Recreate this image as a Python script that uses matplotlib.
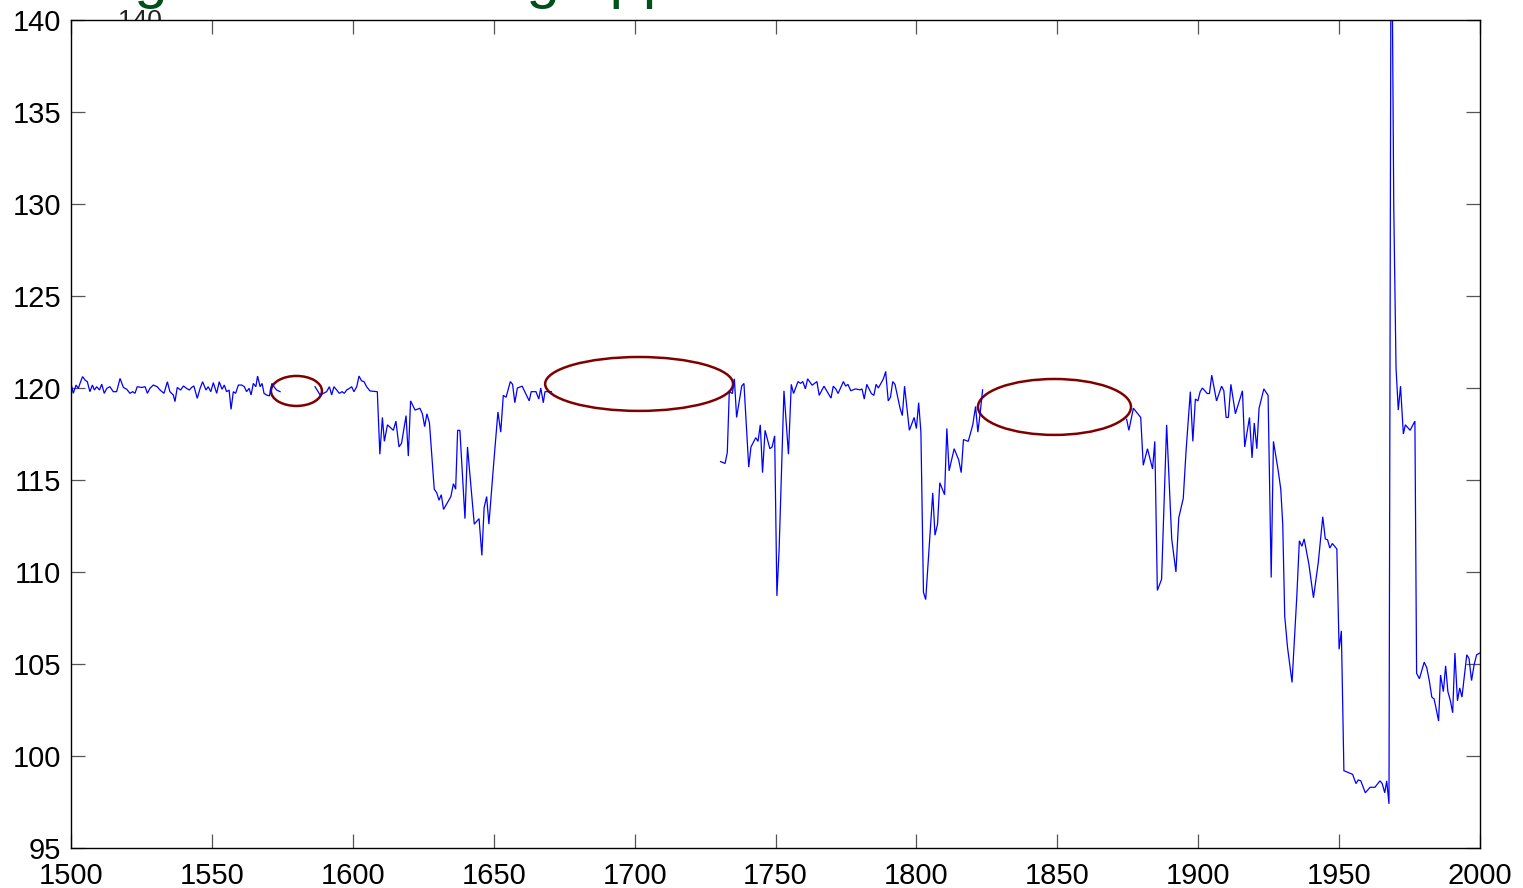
import matplotlib
matplotlib.use('Agg')
import matplotlib.pyplot as plt
from matplotlib.patches import Ellipse

plt.rcParams['font.family'] = ['Liberation Sans', 'DejaVu Sans']

# ---------------- data ----------------
x_ticks = [1500, 1550, 1600, 1650, 1700, 1750, 1800, 1850, 1900, 1950, 2000]
y_ticks = [95, 100, 105, 110, 115, 120, 125, 130, 135, 140]

seg1_years = [1500.0, 1500.8, 1501.8, 1502.6, 1503.2, 1504.1, 1505.0, 1505.8, 1506.7, 1507.6,
              1508.3, 1509.1, 1510.1, 1510.9, 1511.8, 1512.7, 1513.8, 1515.0, 1516.2, 1517.4,
              1518.6, 1519.8, 1520.9, 1521.9, 1522.7, 1523.5, 1525.1, 1526.3, 1527.1, 1528.0,
              1529.2, 1530.6, 1531.6, 1533.0, 1534.2, 1535.1, 1536.3, 1536.9, 1537.7, 1538.9,
              1539.9, 1541.0, 1542.0, 1542.8, 1543.6, 1544.8, 1545.8, 1546.7, 1547.9, 1548.7,
              1549.6, 1550.5, 1551.7, 1552.6, 1553.6, 1554.4, 1555.2, 1556.1, 1556.8, 1557.6,
              1558.4, 1559.4, 1560.6, 1561.5, 1562.3, 1563.2, 1563.9, 1564.7, 1565.6, 1566.2,
              1567.1, 1567.8, 1568.5, 1569.4, 1570.4, 1571.3, 1572.2, 1573.0, 1574.2]
seg1_values = [120.25, 119.71, 120.16, 119.98, 120.25, 120.62, 120.43, 120.34, 119.80, 120.16,
               119.89, 120.07, 119.89, 120.21, 119.71, 119.98, 120.07, 119.80, 119.80, 120.52,
               120.03, 119.93, 119.71, 119.80, 119.71, 120.07, 120.03, 120.07, 119.71, 119.98,
               120.16, 120.07, 119.89, 119.71, 120.34, 119.80, 119.62, 119.26, 120.03, 119.89,
               120.11, 119.98, 119.89, 120.03, 120.11, 119.44, 119.98, 120.34, 119.89, 120.07,
               119.80, 120.29, 119.71, 120.34, 119.93, 120.16, 119.80, 119.89, 118.84, 119.80,
               119.71, 120.16, 120.16, 120.07, 119.80, 119.98, 119.62, 120.25, 120.07, 120.65,
               120.07, 120.25, 119.71, 119.62, 119.57, 120.25, 120.03, 119.89, 119.80]

seg2_years = [1586.6, 1588.4, 1589.6, 1590.7, 1591.7, 1592.5, 1593.3, 1594.3, 1595.2, 1596.2,
              1597.0, 1597.8, 1598.8, 1599.6, 1600.4, 1601.4, 1602.2, 1603.1, 1604.0, 1604.9,
              1606.1, 1608.7, 1609.6, 1610.5, 1611.2, 1612.3, 1614.4, 1615.3, 1616.4, 1617.3,
              1618.9, 1619.7, 1620.5, 1622.1, 1623.8, 1624.7, 1625.5, 1626.3, 1627.2, 1628.9,
              1629.8, 1630.6, 1631.4, 1632.2, 1634.8, 1635.7, 1636.5, 1637.2, 1638.0, 1639.8,
              1640.7, 1643.1, 1644.8, 1645.8, 1646.6, 1647.5, 1648.3, 1650.1, 1651.5, 1652.5,
              1653.4, 1654.4, 1655.9, 1656.7, 1657.5, 1658.4, 1660.1, 1662.6, 1663.3, 1665.0,
              1666.0, 1666.7, 1667.6, 1668.2, 1670.5]
seg2_values = [120.07, 119.62, 119.71, 119.80, 120.07, 119.62, 120.07, 119.89, 119.71, 119.80,
               119.71, 119.89, 119.98, 120.07, 119.80, 120.07, 120.65, 120.39, 120.34, 120.07,
               119.84, 119.80, 116.40, 118.40, 117.10, 118.00, 117.70, 118.20, 116.80, 117.00,
               118.50, 116.30, 119.30, 118.80, 118.90, 118.60, 117.90, 118.60, 118.10, 114.50,
               114.30, 113.90, 114.20, 113.40, 114.10, 114.80, 114.50, 117.70, 117.70, 112.90,
               116.80, 112.60, 112.90, 110.90, 113.50, 114.10, 112.60, 116.10, 118.70, 117.60,
               119.60, 119.50, 120.35, 120.20, 119.20, 120.00, 120.10, 119.30, 119.80, 119.80,
               119.40, 120.00, 119.20, 119.80, 119.80]

seg3_years = [1730.5, 1732.1, 1732.9, 1733.6, 1734.7, 1735.4, 1736.2, 1738.0, 1738.8, 1740.5,
              1741.3, 1743.0, 1743.8, 1744.6, 1745.4, 1746.3, 1748.0, 1748.8, 1749.7, 1750.5,
              1751.3, 1753.0, 1754.6, 1755.6, 1756.4, 1758.0, 1758.9, 1759.7, 1760.6, 1761.4,
              1763.0, 1764.7, 1765.5, 1767.2, 1769.7, 1770.5, 1771.4, 1772.2, 1774.1, 1774.9,
              1775.7, 1776.7, 1778.4, 1780.0, 1780.7, 1781.5, 1782.4, 1784.0, 1784.9, 1785.7,
              1786.5, 1788.3, 1789.1, 1790.0, 1790.8, 1791.6, 1792.4, 1794.2, 1795.0, 1795.8,
              1797.5, 1799.2, 1800.0, 1800.8, 1801.6, 1802.5, 1803.3, 1805.8, 1806.6, 1807.5,
              1808.3, 1810.0, 1810.8, 1811.6, 1813.4, 1815.0, 1815.9, 1816.7, 1818.4, 1820.0,
              1821.0, 1821.8, 1822.6, 1823.5]
seg3_values = [116.00, 115.90, 116.50, 119.80, 119.70, 120.50, 118.40, 120.10, 120.25, 115.70,
               116.80, 117.30, 117.10, 118.00, 115.40, 117.70, 116.70, 116.80, 117.40, 108.70,
               111.30, 119.85, 116.40, 120.20, 119.70, 120.35, 120.25, 120.35, 119.95, 120.50,
               120.15, 120.35, 119.60, 120.10, 119.45, 120.10, 119.95, 119.70, 120.35, 120.10,
               120.20, 119.85, 119.95, 119.90, 119.95, 119.40, 120.20, 119.70, 119.60, 120.20,
               120.00, 120.50, 120.90, 119.30, 119.50, 120.35, 120.20, 118.90, 118.50, 120.10,
               117.70, 118.40, 117.80, 119.20, 117.60, 108.90, 108.50, 114.30, 112.00, 112.60,
               114.85, 114.20, 117.80, 115.50, 116.70, 116.10, 115.40, 117.20, 117.10, 118.00,
               119.00, 117.60, 118.60, 119.90]

seg4_years = [1874.6, 1875.4, 1877.0, 1879.6, 1880.5, 1882.0, 1883.8, 1884.6, 1885.5, 1887.0,
              1888.8, 1890.6, 1892.1, 1893.1, 1894.7, 1895.7, 1897.2, 1898.1, 1899.0, 1899.9,
              1900.7, 1901.5, 1903.2, 1904.0, 1904.8, 1906.5, 1908.3, 1909.1, 1909.9, 1910.7,
              1911.6, 1913.2, 1915.7, 1916.5, 1918.2, 1919.1, 1919.9, 1920.8, 1921.6, 1923.3,
              1924.8, 1925.9, 1926.7, 1928.4, 1929.3, 1930.0, 1930.7, 1931.7, 1933.3, 1935.0,
              1935.9, 1936.8, 1937.6, 1939.3, 1940.9, 1942.6, 1944.2, 1945.1, 1945.9, 1946.7,
              1947.6, 1949.2, 1950.0, 1950.8, 1951.7, 1953.3, 1954.8, 1956.0, 1956.8, 1957.7,
              1959.3, 1961.0, 1962.7, 1964.5, 1965.3, 1966.2, 1966.9, 1967.7, 1968.5, 1969.4,
              1970.2, 1971.0, 1971.8, 1972.8, 1973.5, 1975.2, 1976.9, 1977.5, 1978.5, 1980.2,
              1981.1, 1982.0, 1982.9, 1983.7, 1984.4, 1985.3, 1986.0, 1987.0, 1987.8, 1988.6,
              1989.5, 1990.3, 1991.1, 1992.0, 1992.8, 1993.6, 1995.3, 1996.1, 1997.0, 1997.9,
              1998.8, 2000.0]
seg4_values = [118.30, 117.70, 118.90, 118.40, 115.80, 116.70, 115.60, 117.10, 109.00, 109.60,
               118.00, 111.80, 110.00, 112.95, 114.00, 116.60, 119.80, 117.10, 119.40, 119.30,
               119.80, 120.00, 119.70, 119.70, 120.70, 119.30, 120.10, 119.85, 118.40, 118.40,
               120.20, 118.60, 119.85, 116.80, 118.40, 116.20, 118.10, 116.70, 118.90, 119.95,
               119.60, 109.70, 117.10, 115.50, 114.50, 112.60, 107.60, 105.90, 104.00, 108.70,
               111.70, 111.40, 111.80, 110.40, 108.60, 110.50, 113.00, 111.80, 111.75, 111.30,
               111.55, 111.25, 105.80, 106.80, 99.20, 99.10, 99.00, 98.50, 98.70, 98.65,
               98.00, 98.30, 98.30, 98.65, 98.50, 98.00, 98.65, 97.40, 150.00, 129.80,
               121.10, 118.80, 120.10, 117.50, 118.00, 117.70, 118.20, 104.50, 104.20, 105.10,
               104.80, 104.10, 103.20, 103.10, 102.60, 101.90, 104.40, 103.50, 104.90, 103.50,
               103.00, 102.35, 105.60, 103.00, 103.70, 103.20, 105.50, 105.30, 104.10, 104.95,
               105.50, 105.60]

# highlighted gaps (centre year, centre value, width in years, height in value units)
ellipse_centers = [(1580.0, 119.84), (1701.6, 120.22), (1849.0, 118.97)]
ellipse_widths = [18.1, 66.7, 54.3]
ellipse_heights = [1.63, 2.93, 3.04]

title_text = "Using the smoothing approach"

# ---------------- figure ----------------
W, H = 1523, 888
fig = plt.figure(figsize=(W / 100, H / 100), dpi=100, facecolor='white')
ax = fig.add_axes([71 / W, 40 / H, 1409 / W, 828 / H])

for yrs, vals in [(seg1_years, seg1_values), (seg2_years, seg2_values),
                  (seg3_years, seg3_values), (seg4_years, seg4_values)]:
    ax.plot(yrs, vals, color='#0000ff', linewidth=0.9, solid_joinstyle='miter')

for (cx, cy), w, h in zip(ellipse_centers, ellipse_widths, ellipse_heights):
    ax.add_patch(Ellipse((cx, cy), w, h, fill=False, edgecolor='#800000', linewidth=1.8))

ax.set_xlim(1500, 2000)
ax.set_ylim(95, 140)
ax.set_xticks(x_ticks)
ax.set_yticks(y_ticks)
ax.tick_params(direction='in', length=10, width=0.9, color='#555555',
               top=True, right=True, labelsize=21, labelcolor='black')
ax.tick_params(axis='x', pad=10)
ax.tick_params(axis='y', pad=7)
for s in ax.spines.values():
    s.set_linewidth(1.0)
    s.set_color('black')

# remnants of slide title and an underlying label, cut off at top
fig.text(15 / W, 1 + 2.6 / H, title_text, fontsize=43, color='#00501a',
         ha='left', va='baseline', zorder=5)
fig.text(140 / W, 1 - 28 / H, '140', fontsize=19, color='#222222',
         ha='center', va='baseline', zorder=-1)

fig.savefig('out.png', dpi=100, facecolor='white')
